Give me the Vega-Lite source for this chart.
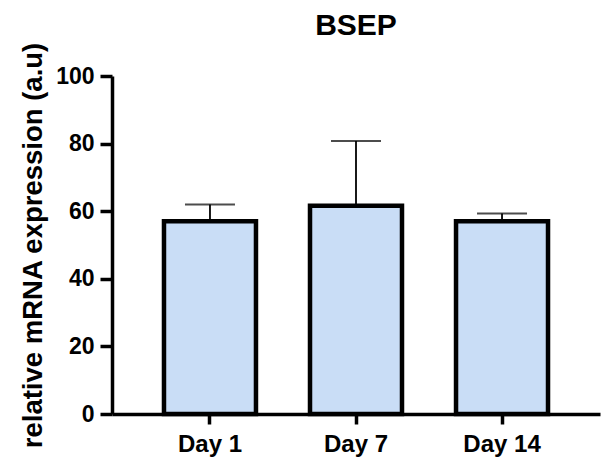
{
  "$schema": "https://vega.github.io/schema/vega-lite/v6.json",
  "autosize": "none",
  "width": 488,
  "height": 338,
  "padding": {"left": 112, "top": 76, "right": 2, "bottom": 49},
  "background": "white",
  "title": {"text": "BSEP", "font": "Liberation Sans", "fontSize": 30, "fontWeight": "bold", "color": "black", "anchor": "middle", "offset": 1},
  "data": {"values": [
    {"day": "Day 1", "mean": 57, "upper": 62},
    {"day": "Day 7", "mean": 61.6, "upper": 80.8},
    {"day": "Day 14", "mean": 57, "upper": 59.3}
  ]},
  "config": {"view": {"stroke": null}},
  "encoding": {
    "x": {"field": "day", "type": "nominal", "sort": ["Day 1", "Day 7", "Day 14"],
      "scale": {"paddingInner": 0.37, "paddingOuter": 0.356},
      "axis": {"title": null, "labelAngle": 0, "labelFont": "Liberation Sans", "labelFontSize": 24, "labelFontWeight": "bold", "labelColor": "black", "domainColor": "black", "domainWidth": 3.5, "tickColor": "black", "tickWidth": 3.5, "tickSize": 10, "labelPadding": 8}}
  },
  "layer": [
    {"mark": {"type": "rule", "color": "black", "strokeWidth": 1.8},
     "encoding": {"y": {"field": "mean", "type": "quantitative"}, "y2": {"field": "upper"}}},
    {"mark": {"type": "tick", "color": "black", "size": 50, "thickness": 2},
     "encoding": {"y": {"field": "upper", "type": "quantitative"}}},
    {"mark": {"type": "bar", "fill": "#c9ddf6", "stroke": "black", "strokeWidth": 4.5},
     "encoding": {"y": {"field": "mean", "type": "quantitative", "scale": {"domain": [0, 100], "nice": false},
       "axis": {"title": "relative mRNA expression (a.u)", "titleFont": "Liberation Sans", "titleFontSize": 27.5, "titleFontWeight": "bold", "titleColor": "black", "titlePadding": 8,
         "values": [0, 20, 40, 60, 80, 100], "grid": false, "labelFont": "Liberation Sans", "labelFontSize": 23, "labelFontWeight": "bold", "labelColor": "black", "domainColor": "black", "domainWidth": 3.5, "tickColor": "black", "tickWidth": 3.5, "tickSize": 12, "labelPadding": 6}}}}
  ]
}
